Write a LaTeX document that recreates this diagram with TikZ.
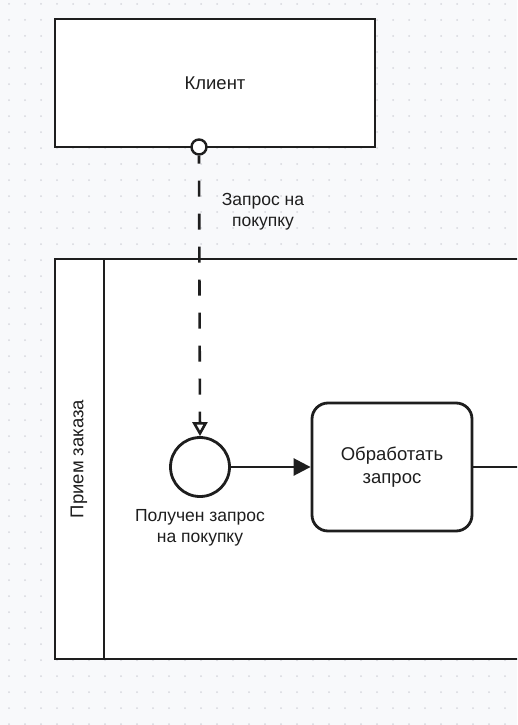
\documentclass[tikz,border=0pt]{standalone}
\usepackage{fontspec}
\setmainfont{Liberation Sans}
\usetikzlibrary{arrows.meta, positioning}
\definecolor{inkc}{HTML}{1E1E1E}
\definecolor{paperc}{HTML}{F8F9FB}
\definecolor{dotc}{HTML}{D6D8DD}
\tikzset{
    outline/.style={draw=inkc, line width=2.4pt, fill=white},
    roomtext/.style={font=\fontsize{18.5}{23}\selectfont, text=inkc, align=center}
}

\begin{document}
\begin{tikzpicture}[x=1pt, y=-1pt,
    client/.style={outline, minimum width=320pt, minimum height=128pt, roomtext},
    port/.style={outline, circle, minimum size=15pt, inner sep=0pt},
    startev/.style={outline, circle, line width=2.8pt, minimum size=59pt, inner sep=0pt},
    task/.style={outline, line width=2.8pt, rounded corners=16pt, minimum width=160pt, minimum height=128pt, roomtext},
    caption/.style={font=\fontsize{17.5}{21}\selectfont, text=inkc, align=center},
    flow/.style={draw=inkc, line width=2.6pt, -{Triangle[length=17pt, width=17pt]}},
    msg/.style={draw=inkc, line width=2.6pt, dash pattern=on 16pt off 17pt, dash phase=8pt,
        -{Triangle[open, length=14pt, width=15pt, fill=white]}},
    seq/.style={draw=inkc, line width=2.4pt}
]
\useasboundingbox (0,0) rectangle (517,725);
\clip (0,0) rectangle (517,725);

% dotted paper
\fill[paperc] (0,0) rectangle (517,725);
\foreach \i in {0,...,32} {
    \foreach \j in {0,...,45} {
        \fill[dotc] (9+16*\i, 4+16*\j) circle (1pt);
    }
}

% Client pool
\node[client] (client) at (215,83) {Клиент};
\node[port] (msgport) at (199,147) {};

% Order pool with its lane header
\draw[outline] (55,259) coordinate (poolnw) rectangle (540,659);
\draw[seq] (104,259) coordinate (lanetop) -- (104,659) coordinate (lanebot);
\node[roomtext, rotate=90] (lanelbl) at (79,459) {Прием заказа};

% Events and tasks
\node[startev] (recv) at (200,467) {};
\node[caption, below=8pt of recv] (recvlbl) {Получен запрос\\на покупку};
\node[task] (handle) at (392,467) {Обработать\\запрос};
\coordinate (offpage) at (540,467);

% Connectors
\draw[msg] (msgport.south) -- (recv.north);
\node[caption] (msglbl) at (263,212) {Запрос на\\покупку};
\draw[flow] (recv) -- (handle);
\draw[seq] (handle) -- (offpage);

\end{tikzpicture}
\end{document}
